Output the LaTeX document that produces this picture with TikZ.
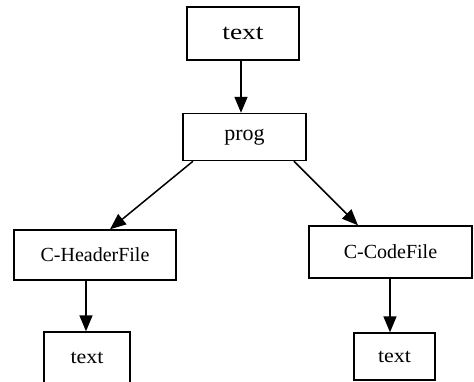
\documentclass[tikz,border=0pt]{standalone}
\usepackage{fontspec}
\setmainfont{Liberation Serif}
\usetikzlibrary{arrows.meta}
\begin{document}
\begin{tikzpicture}[x=1pt,y=-1pt,
  box/.style={draw=black, line width=1.4pt, inner sep=0pt, fill=white,
    font=\fontsize{20}{20}\selectfont},
  arr/.style={line width=1.5pt, -{Triangle[width=13pt,length=16pt]}}]
\useasboundingbox (0,0) rectangle (474,381);
\node[box, minimum width=112pt, minimum height=53pt] (top) at (243,33.5) {\fontsize{22}{22}\selectfont\addfontfeature{FakeStretch=1.25}text};
\node[box, minimum width=123pt, minimum height=47pt] (prog) at (244.5,137) {\fontsize{22}{22}\selectfont prog};
\node[box, minimum width=162pt, minimum height=50pt] (hdr) at (95,255) {C-HeaderFile};
\node[box, minimum width=163pt, minimum height=52pt] (code) at (390.5,252) {C-CodeFile};
\node[box, minimum width=86pt, minimum height=52pt] (bl) at (87,358) {\addfontfeature{FakeStretch=1.1}text};
\node[box, minimum width=81pt, minimum height=47pt] (br) at (394.5,356.5) {\addfontfeature{FakeStretch=1.1}text};
\draw[arr] ([xshift=-2pt]top.south) -- ([xshift=-3.5pt]prog.north);
\draw[arr] ([xshift=-51.5pt]prog.south) -- ([xshift=15pt]hdr.north);
\draw[arr] ([xshift=49.5pt]prog.south) -- ([xshift=-32.5pt]code.north);
\draw[arr] ([xshift=-9pt]hdr.south) -- ([xshift=-1pt]bl.north);
\draw[arr] ([xshift=-0.5pt]code.south) -- ([xshift=-4.5pt]br.north);
\end{tikzpicture}
\end{document}
